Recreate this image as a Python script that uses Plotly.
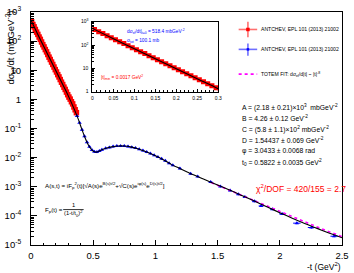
import plotly.graph_objects as go

# ---------------- data ----------------
red_t = [0.005, 0.015, 0.025, 0.035, 0.045, 0.055, 0.065, 0.075, 0.085, 0.095,
         0.105, 0.115, 0.125, 0.135, 0.145, 0.155, 0.165, 0.175, 0.185, 0.195,
         0.205, 0.215, 0.225, 0.235, 0.245, 0.255, 0.265, 0.275, 0.285, 0.295,
         0.305, 0.315, 0.325, 0.335, 0.345, 0.355, 0.365]
red_val = [462, 372, 309, 251, 204, 170, 138, 115, 93.3, 75.9,
           63.1, 51.3, 42.7, 34.7, 28.2, 23.4, 19.1, 15.8, 12.9, 10.5,
           8.71, 7.08, 5.89, 4.79, 3.89, 3.24, 2.63, 2.19, 1.78, 1.45,
           1.20, 1.02, 0.83, 0.70, 0.55, 0.44, 0.35]

blue_t = [0.37, 0.39, 0.41, 0.43, 0.45, 0.47, 0.49, 0.51, 0.53, 0.55,
          0.57, 0.60, 0.63, 0.66, 0.69, 0.72, 0.75, 0.78, 0.81, 0.84,
          0.87, 0.90, 0.93, 0.96, 0.99, 1.02, 1.05, 1.08, 1.11, 1.14,
          1.197, 1.283, 1.34, 1.444, 1.523, 1.601, 1.667, 1.719, 1.797, 1.85,
          1.941, 2.019, 2.137, 2.255, 2.437]
blue_val = [0.269, 0.158, 0.0912, 0.0537, 0.0339, 0.0234, 0.0182, 0.0158, 0.0155, 0.0170,
            0.0186, 0.0209, 0.0224, 0.0240, 0.0251, 0.0251, 0.0251, 0.0240, 0.0229, 0.0214,
            0.0195, 0.0174, 0.0155, 0.0138, 0.0120, 0.0105, 0.00912, 0.00776, 0.00646, 0.00550,
            0.00427, 0.00282, 0.00224, 0.00145, 0.00102, 7.41e-4, 5.50e-4, 4.47e-4, 3.16e-4, 2.19e-4,
            1.70e-4, 1.17e-4, 5.62e-5, 3.98e-5, 2.00e-5]
blue_terr = [0.005] * 30 + [0.01, 0.01, 0.01, 0.015, 0.015, 0.015, 0.015, 0.015, 0.02, 0.02,
                            0.02, 0.025, 0.03, 0.03, 0.03]

fit_t = [0, 0.05, 0.1, 0.15, 0.2, 0.25, 0.3, 0.35, 0.38, 0.40, 0.43, 0.46, 0.49, 0.51,
         0.525, 0.54, 0.57, 0.61, 0.65, 0.70, 0.75, 0.80, 0.87, 0.93, 1.0, 1.07, 1.13,
         1.2, 1.26, 1.3, 1.4, 1.5, 1.6, 1.7, 1.8, 1.9, 2.0, 2.1, 2.2, 2.3, 2.4, 2.5]
fit_val = [518, 186, 69.2, 25.7, 9.55, 3.55, 1.32, 0.437, 0.209, 0.120, 0.0537, 0.0275,
           0.0182, 0.0158, 0.0155, 0.0162, 0.0186, 0.0214, 0.0234, 0.0251, 0.0251, 0.0234,
           0.0195, 0.0155, 0.0115, 0.00813, 0.00575, 0.00417, 0.00316, 0.00263, 0.00174,
           0.00115, 7.59e-4, 4.90e-4, 3.16e-4, 2.00e-4, 1.29e-4, 8.32e-5, 5.50e-5, 3.72e-5,
           2.51e-5, 1.78e-5]

pow_t = [1.45, 1.5, 1.6, 1.7, 1.8, 1.9, 2.0, 2.1, 2.2, 2.3, 2.4, 2.5]
pow_val = [1.38e-3, 1.12e-3, 7.41e-4, 4.90e-4, 3.24e-4, 2.09e-4, 1.38e-4, 9.12e-5,
           6.03e-5, 4.17e-5, 2.82e-5, 1.95e-5]

x_ticks = [0, 0.5, 1, 1.5, 2, 2.5]
y_ticks = [1e-5, 1e-4, 1e-3, 1e-2, 1e-1, 1, 10, 100, 1000]
y_ticktext = ["10<sup>-5</sup>", "10<sup>-4</sup>", "10<sup>-3</sup>", "10<sup>-2</sup>",
              "10<sup>-1</sup>", "1", "10", "10<sup>2</sup>", "10<sup>3</sup>"]
inset_x_ticks = [0, 0.05, 0.1, 0.15, 0.2, 0.25, 0.3]
inset_y_ticks = [1, 10, 100, 1000]
inset_y_text = ["1", "10", "10<sup>2</sup>", "10<sup>3</sup>"]

legend_labels = ["ANTCHEV, EPL 101 (2013) 21002", "ANTCHEV, EPL 101 (2013) 21002",
                 "TOTEM FIT: dσ<sub>el</sub>/d|t| ~ |t|<sup>-8</sup>"]
param_lines = [
    "A = (2.18 ± 0.21)×10<sup>3</sup>  mbGeV<sup>-2</sup>",
    "B = 4.26 ± 0.12 GeV<sup>-2</sup>",
    "C = (5.8 ± 1.1)×10<sup>2</sup> mbGeV<sup>-2</sup>",
    "D = 1.54437 ± 0.069 GeV<sup>-2</sup>",
    "φ = 3.0433 ± 0.0068 rad",
    "t<sub>0</sub> = 0.5822 ± 0.0035 GeV<sup>2</sup>",
]

# ---------------- layout helpers ----------------
W, H = 354, 273
L, R, T, B = 29, 348, 5, 245
FONT = "Liberation Sans, Arial, sans-serif"


def px(x):
    return (x - L) / (R - L)


def py(y):
    return (B - y) / (B - T)


RED = "#ff0000"
RED_L = "#ff7070"
BLUE = "#0000ff"
BLUE_L = "#6f6fff"
MAG = "#ff00ff"

fig = go.Figure()

# main plot
fig.add_trace(go.Scatter(x=red_t, y=red_val, mode="markers",
                         marker=dict(symbol="square", size=5.5, color=RED, line=dict(width=0)),
                         error_y=dict(type="percent", value=5, color=RED, thickness=1, width=0),
                         xaxis="x", yaxis="y", showlegend=False))
fig.add_trace(go.Scatter(x=blue_t, y=blue_val, mode="markers",
                         marker=dict(symbol="triangle-up", size=4, color=BLUE, line=dict(width=0)),
                         error_y=dict(type="percent", value=8, color=BLUE, thickness=1, width=0),
                         error_x=dict(type="data", array=blue_terr, color=BLUE, thickness=1, width=0),
                         xaxis="x", yaxis="y", showlegend=False))
fig.add_trace(go.Scatter(x=pow_t, y=pow_val, mode="lines",
                         line=dict(color=MAG, width=1.6, dash="dot"),
                         xaxis="x", yaxis="y", showlegend=False))
fig.add_trace(go.Scatter(x=fit_t, y=fit_val, mode="lines", line_shape="spline",
                         line=dict(color="black", width=1.1),
                         xaxis="x", yaxis="y", showlegend=False))

# inset
fig.add_trace(go.Scatter(x=red_t, y=red_val, mode="markers",
                         marker=dict(symbol="square", size=5, color=RED, line=dict(width=0)),
                         error_y=dict(type="percent", value=6, color=RED, thickness=1, width=0),
                         xaxis="x2", yaxis="y2", showlegend=False))
fig.add_trace(go.Scatter(x=fit_t, y=fit_val, mode="lines", line_shape="spline",
                         line=dict(color="black", width=1.1),
                         xaxis="x2", yaxis="y2", showlegend=False))

axis_common = dict(showline=True, linecolor="black", linewidth=1, mirror=True,
                   showgrid=False, zeroline=False, ticks="inside", tickcolor="black")

fig.update_layout(
    width=W, height=H,
    margin=dict(l=L, r=W - R, t=T, b=H - B, pad=0),
    paper_bgcolor="white", plot_bgcolor="white",
    font=dict(family=FONT, color="black"),
    xaxis=dict(**axis_common, domain=[0, 1], range=[0, 2.5], tickvals=x_ticks,
               ticktext=["0", "0.5", "1", "1.5", "2", "2.5"], ticklen=5,
               tickfont=dict(size=9.5), ticklabelstandoff=2,
               minor=dict(dtick=0.1, tick0=0, ticks="inside", ticklen=2.5, tickcolor="black")),
    yaxis=dict(**axis_common, domain=[0, 1], type="log", range=[-5, 3],
               tickvals=y_ticks, ticktext=y_ticktext, ticklen=6,
               tickfont=dict(size=9.5), ticklabelstandoff=7,
               minor=dict(dtick="D1", ticks="inside", ticklen=3, tickcolor="black")),
    xaxis2=dict(**axis_common, domain=[px(92), px(221)], anchor="y2", range=[0, 0.3],
                tickvals=inset_x_ticks, ticktext=["0", "0.05", "0.1", "0.15", "0.2", "0.25", "0.3"],
                ticklen=3, tickfont=dict(size=5), ticklabelstandoff=1,
                minor=dict(dtick=0.01, tick0=0, ticks="inside", ticklen=1.5, tickcolor="black")),
    yaxis2=dict(**axis_common, domain=[py(87), py(15)], anchor="x2", type="log", range=[0, 3],
                tickvals=inset_y_ticks, ticktext=inset_y_text, ticklen=3,
                tickfont=dict(size=5), ticklabelstandoff=2,
                minor=dict(dtick="D1", ticks="inside", ticklen=1.5, tickcolor="black")),
)

ann = []


def text(x, y, s, size, color="black", xanchor="left", yanchor="middle", angle=0):
    ann.append(dict(x=px(x), y=py(y), xref="paper", yref="paper", text=s, showarrow=False,
                    xanchor=xanchor, yanchor=yanchor, textangle=angle,
                    font=dict(size=size, color=color, family=FONT)))


# axis titles
text(8, 42, "dσ<sub>el</sub>/dt (mbGeV<sup>-2</sup>)", 9.5, xanchor="center", angle=-90)
text(349, 267, "-t (GeV<sup>2</sup>)", 8.5, xanchor="right")

# inset texts
text(125, 25, "dσ<sub>el</sub>/dt|<sub>t=0</sub> = 518.4 mbGeV<sup>-2</sup>", 4.8, BLUE)
text(125, 35, "σ<sub>tot</sub> = 100.1 mb", 4.8, BLUE)
text(99, 72, "|t|<sub>min</sub> = 0.0017 GeV<sup>2</sup>", 4.8, RED)

# legend
leg_y = [23, 43.5, 69]
for yy, lab in zip(leg_y, legend_labels):
    text(263, yy, lab, 5.1)

shapes = []


def seg(x0, y0, x1, y1, color, width=1.2, dash="solid"):
    shapes.append(dict(type="line", xref="paper", yref="paper", x0=px(x0), y0=py(y0),
                       x1=px(x1), y1=py(y1), line=dict(color=color, width=width, dash=dash)))


def box(xc, yc, s, color):
    shapes.append(dict(type="rect", xref="paper", yref="paper", x0=px(xc - s), y0=py(yc - s),
                       x1=px(xc + s), y1=py(yc + s), fillcolor=color, line=dict(width=0)))


seg(242, leg_y[0], 261, leg_y[0], RED_L, 1.6)
seg(251.5, 15, 251.5, 31, RED_L, 1.6)
box(251.5, leg_y[0], 1.8, RED)
seg(242, leg_y[1], 261, leg_y[1], BLUE_L, 1.6)
seg(251.5, 37.5, 251.5, 50, BLUE_L, 1.6)
box(251.5, leg_y[1], 1.3, BLUE)
seg(242, leg_y[2], 261, leg_y[2], MAG, 1.6, "dot")

# parameters
for i, s in enumerate(param_lines):
    text(243, 103 + i * 11.4, s, 6.8)
text(258, 187, "χ<sup>2</sup>/DOF = 420/155 = 2.7", 8.5, RED)

# formulas
text(41, 184, "A(s,t) = iF<sub>p</sub><sup>2</sup>(t)[√A(s)"
     "e<sup>B(s)t/2</sup>+√C(s)e<sup>iφ(s)</sup>e<sup>D(s)t/2</sup>]", 6.2)
text(41, 209, "F<sub>p</sub>(t) = ", 6.2)
text(72.5, 204, "1", 5.8, xanchor="center")
seg(62, 208.5, 83, 208.5, "black", 0.8)
text(72.5, 213, "(1-t/t<sub>0</sub>)<sup>2</sup>", 5.8, xanchor="center")

fig.update_layout(annotations=ann, shapes=shapes)
fig.write_html("out.html", config={"displayModeBar": False},
               post_script="document.body.style.margin='0';document.body.style.padding='0';")
